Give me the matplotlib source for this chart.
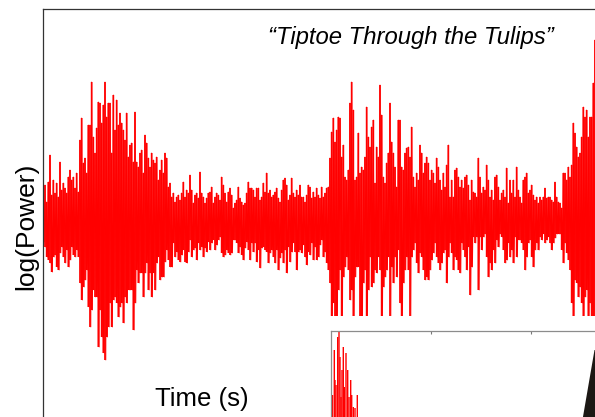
import numpy as np
import matplotlib
matplotlib.use("Agg")
import matplotlib.pyplot as plt
from matplotlib.patches import Rectangle, Polygon

plt.rcParams["font.family"] = ["Liberation Sans", "DejaVu Sans"]

# ── Data (log power envelope, arbitrary units, 60 samples / s) ────────────────
DT = 1 / 60.0
T0 = 0.0033

peaks_0 = [20, 37, 20, 40, 67, 27, 42, 29, 39, 25, 60, 32, 39, 34, 29, 45, 52, 42, 45, 34,
           49, 30, 82, 104, 59, 64, 49, 97, 97, 140, 85, 69, 94, 120, 119, 99, 117, 140, 105, 119,
           119, 69, 127, 92, 122, 97, 109, 99, 92, 82, 109, 65, 77, 79, 60, 110, 60, 55, 69, 72,
           49, 87, 79, 64, 55, 69, 62, 59, 65, 42, 52, 62, 49, 69, 64, 35, 39, 25, 29, 20,
           25, 27, 22]
troughs_0 = [-20, -25, -35, -38, -41, -50, -35, -33, -45, -48, -31, -25, -35, -41, -28, -45, -38, -25, -33, -35,
             -28, -35, -61, -78, -65, -58, -48, -85, -105, -88, -68, -75, -75, -125, -88, -115, -131, -138, -115, -105,
             -81, -105, -78, -75, -81, -95, -85, -81, -101, -75, -81, -68, -68, -68, -108, -81, -48, -61, -51, -51,
             -75, -51, -41, -68, -51, -75, -51, -68, -41, -35, -58, -55, -55, -40, -28, -38, -45, -45, -21, -35,
             -30, -38, -40]

peaks_1 = [29, 40, 25, 32, 29, 47, 32, 19, 27, 29, 24, 50, 29, 25, 19, 24, 29, 30, 35, 19,
           25, 29, 27, 22, 45, 37, 29, 20, 30, 34, 27, 14, 19, 22, 35, 24, 20, 17, 19, 29,
           40, 34, 34, 32, 25, 34, 34, 22, 25, 39, 30, 49, 29, 32, 25, 27, 30, 34, 24, 20,
           32, 42, 44, 37, 22, 27, 44, 29, 25, 32, 27, 37, 25, 25, 20, 27, 37, 35, 24, 30,
           25, 34, 27, 24]
troughs_1 = [-33, -28, -40, -41, -30, -18, -35, -28, -26, -38, -21, -28, -25, -35, -26, -30, -20, -28, -21, -18,
             -28, -23, -18, -15, -31, -35, -33, -28, -31, -33, -31, -18, -18, -21, -31, -25, -33, -38, -26, -20,
             -28, -38, -21, -30, -21, -40, -28, -46, -26, -25, -28, -30, -41, -31, -28, -35, -41, -28, -48, -36,
             -31, -41, -28, -51, -25, -40, -30, -21, -30, -48, -30, -28, -31, -23, -35, -43, -30, -33, -21, -38,
             -25, -38, -35, -23]

peaks_2 = [35, 25, 29, 34, 35, 64, 90, 104, 80, 92, 105, 104, 65, 77, 45, 42, 52, 119, 140, 112,
           42, 45, 89, 49, 55, 52, 65, 115, 85, 75, 95, 102, 39, 75, 65, 137, 107, 45, 39, 59,
           69, 119, 80, 69, 55, 35, 102, 102, 55, 52, 69, 74, 75, 65, 95, 45, 35, 49, 42, 77,
           69, 49, 59, 65, 59, 42, 52, 49, 39, 64, 55, 42, 32, 49, 35, 57, 77, 25, 42, 25,
           52, 54, 45, 35]
troughs_2 = [-18, -35, -30, -41, -48, -61, -100, -81, -105, -100, -68, -48, -100, -55, -45, -35, -48, -78, -68, -105,
             -55, -45, -45, -100, -105, -61, -48, -100, -68, -35, -65, -61, -48, -51, -35, -48, -100, -65, -55, -48,
             -35, -100, -45, -61, -35, -55, -28, -81, -100, -61, -48, -35, -48, -98, -35, -28, -21, -41, -51, -31,
             -35, -48, -58, -55, -58, -48, -38, -31, -21, -35, -41, -48, -41, -31, -28, -61, -35, -21, -31, -48,
             -35, -38, -48, -51]

peaks_3 = [42, 34, 45, 47, 37, 22, 42, 30, 29, 25, 64, 45, 29, 35, 32, 57, 42, 25, 32, 22,
           45, 47, 35, 22, 29, 32, 25, 54, 19, 42, 29, 42, 25, 55, 32, 25, 19, 42, 45, 49,
           29, 32, 37, 27, 22, 25, 19, 25, 22, 25, 34, 24, 25, 25, 22, 20, 40, 25, 20, 19,
           14, 49, 49, 42, 55, 45, 57, 99, 89, 75, 65, 69, 85, 115, 105, 112, 85, 105, 105, 139,
           182]
troughs_3 = [-21, -28, -35, -48, -25, -73, -45, -15, -21, -15, -68, -15, -28, -15, -12, -35, -55, -41, -48, -28,
             -41, -18, -25, -12, -15, -28, -41, -38, -21, -35, -28, -41, -15, -35, -18, -18, -21, -28, -48, -35,
             -21, -18, -35, -45, -28, -21, -28, -15, -18, -12, -21, -18, -15, -21, -28, -21, -16, -12, -12, -12,
             -28, -41, -21, -31, -38, -48, -81, -100, -58, -61, -75, -65, -81, -100, -75, -68, -100, -81, -100, -100,
             -100]

# inset: zoomed onset (time in s, level)
inset_t = [0.015, 0.033, 0.04, 0.05, 0.067, 0.08, 0.09, 0.10, 0.11, 0.123,
           0.133, 0.15, 0.167, 0.18, 0.197, 0.207, 0.223, 0.24, 0.263]
inset_h = [45, 90, 60, 55, 103, 109, 83, 43, 70, 93,
           53, 87, 70, 43, 60, 45, 33, 32, 45]

W, H = 595, 417


def fx(px):
    return px / W


def fy(py):
    return 1 - py / H


fig = plt.figure(figsize=(W / 100, H / 100), dpi=100)

# ── Main waveform ─────────────────────────────────────────────────────────────
ax = fig.add_axes([fx(43), fy(440), fx(620) - fx(43), fy(9) - fy(440)])
peaks = np.array(peaks_0 + peaks_1 + peaks_2 + peaks_3)
troughs = np.array(troughs_0 + troughs_1 + troughs_2 + troughs_3)
t = T0 + np.arange(len(peaks)) * DT
ax.vlines(t, troughs, peaks, color="#ff0000", linewidth=1.25, snap=False)
# zig-zag trace through the same samples fills the dense core
zz_t = np.ravel(np.column_stack([t, t + DT / 2]))
zz_y = np.ravel(np.column_stack([peaks, troughs]))
ax.plot(zz_t, zz_y, color="#ff0000", linewidth=0.6)
ax.set_xlim(0, 5.77)
ax.set_ylim(-218, 213)
ax.set_xticks([])
ax.set_yticks([])
for side in ("bottom", "right"):
    ax.spines[side].set_visible(False)
for side in ("left", "top"):
    ax.spines[side].set_color("#333333")
    ax.spines[side].set_linewidth(0.9)

# white strip above the inset
fig.patches.append(Rectangle((fx(330), fy(331)), fx(620) - fx(330), fy(316) - fy(331),
                             transform=fig.transFigure, facecolor="white",
                             edgecolor="none", zorder=5))

# ── Inset ─────────────────────────────────────────────────────────────────────
ins = fig.add_axes([fx(331), fy(440), fx(640) - fx(331), fy(331) - fy(440)])
ins.set_zorder(6)
ins.vlines(inset_t, 0, inset_h, color="#ff0000", linewidth=1.0, snap=False)
ins.add_patch(Polygon([(2.48, 0), (2.635, 90), (2.9, 90), (2.9, 0)],
                      closed=True, facecolor="#1c1814", edgecolor="none"))
ins.set_xlim(0, 3.09)
ins.set_ylim(0, 109)
ins.xaxis.tick_top()
ins.set_xticks([1, 2])
ins.set_xticklabels([])
ins.set_yticks([])
ins.tick_params(axis="x", direction="in", length=2.5, width=0.8, color="#777777")
for s in ins.spines.values():
    s.set_color("#8c8c8c")
    s.set_linewidth(0.9)

# ── Text ──────────────────────────────────────────────────────────────────────
fig.text(fx(411), fy(44), "\u201cTiptoe Through the Tulips\u201d", style="italic",
         fontsize=17.2, ha="center", va="baseline")
fig.text(fx(26), fy(226), "log(Power)", rotation=90, fontsize=19,
         ha="center", va="center")
fig.text(fx(202), fy(406), "Time (s)", fontsize=18.5, ha="center", va="baseline")

fig.savefig("out.png", dpi=100)
